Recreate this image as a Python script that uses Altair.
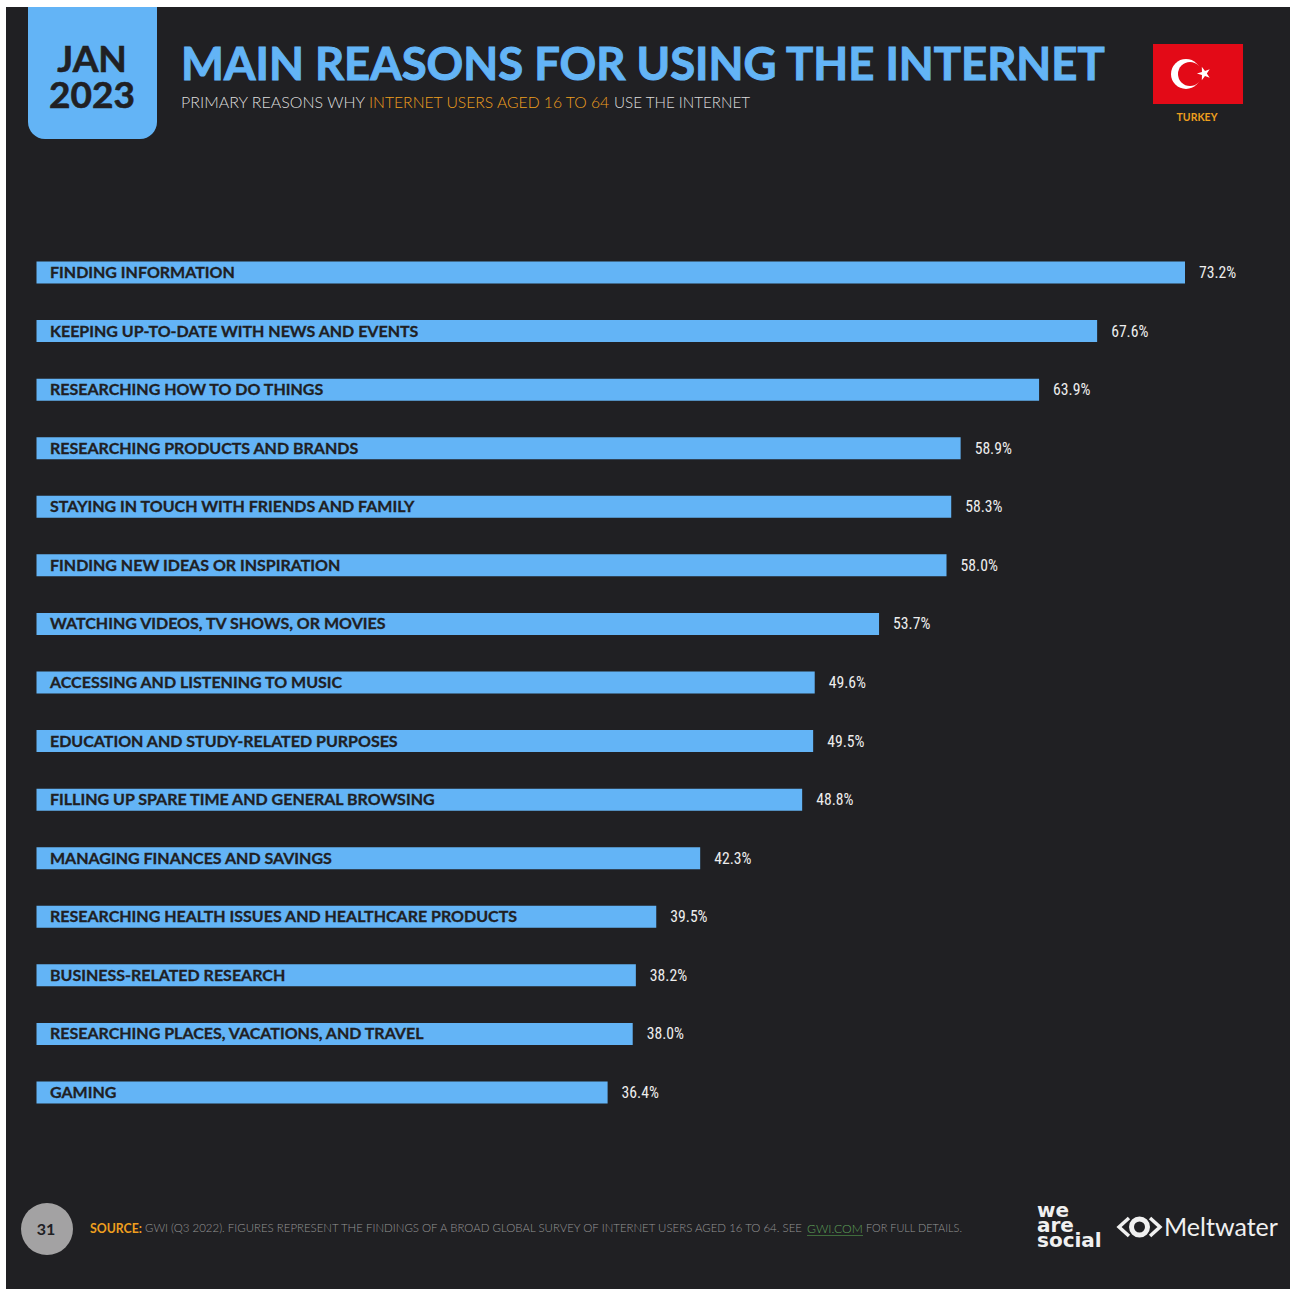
import altair as alt
import pandas as pd

reasons = [
    "FINDING INFORMATION",
    "KEEPING UP-TO-DATE WITH NEWS AND EVENTS",
    "RESEARCHING HOW TO DO THINGS",
    "RESEARCHING PRODUCTS AND BRANDS",
    "STAYING IN TOUCH WITH FRIENDS AND FAMILY",
    "FINDING NEW IDEAS OR INSPIRATION",
    "WATCHING VIDEOS, TV SHOWS, OR MOVIES",
    "ACCESSING AND LISTENING TO MUSIC",
    "EDUCATION AND STUDY-RELATED PURPOSES",
    "FILLING UP SPARE TIME AND GENERAL BROWSING",
    "MANAGING FINANCES AND SAVINGS",
    "RESEARCHING HEALTH ISSUES AND HEALTHCARE PRODUCTS",
    "BUSINESS-RELATED RESEARCH",
    "RESEARCHING PLACES, VACATIONS, AND TRAVEL",
    "GAMING",
]
shares = [73.2, 67.6, 63.9, 58.9, 58.3, 58.0, 53.7, 49.6, 49.5, 48.8, 42.3, 39.5, 38.2, 38.0, 36.4]

BLUE = "#63B4F6"
DARK = "#202023"
ORANGE = "#EE9F1E"
SANS = "Lato"
NARROW = "'Roboto Condensed','Open Sans Condensed','DejaVu Sans Condensed',Roboto"
W, H = 1290, 1289

table = pd.DataFrame({"reason": reasons, "share": shares})
one = alt.Data(values=[{"k": 1}])

x_enc = alt.X("share:Q", axis=None, scale=alt.Scale(domain=[0, 73.2], range=[36.5, 1185]))
y_enc = alt.Y(
    "reason:N", axis=None, sort=reasons,
    scale=alt.Scale(range=[261.5, 1103.5], paddingInner=0.624, paddingOuter=0),
)


def block(x0, x1, y0, y1, color, **mark):
    return alt.Chart(one).mark_rect(color=color, **mark).encode(
        x=alt.value(x0), x2=alt.value(x1), y=alt.value(y0), y2=alt.value(y1)
    )


def label(text, x, y, size, color, weight="normal", align="left", font=SANS, **mark):
    return alt.Chart(one).mark_text(
        text=text, fontSize=size, color=color, fontWeight=weight, align=align,
        baseline="middle", font=font, **mark
    ).encode(x=alt.value(x), y=alt.value(y))


def glyph(x, y, size, **mark):
    return alt.Chart(one).mark_point(**mark).encode(
        x=alt.value(x), y=alt.value(y), size=alt.value(size)
    )


# Panel and header
panel = block(6, W, 7, H, DARK)
badge = block(28, 157, 7, 139, BLUE, cornerRadiusBottomLeft=17, cornerRadiusBottomRight=17)
header = [
    label("JAN", 92, 61, 37, DARK, "bold", "center", stroke=DARK, strokeWidth=0.6),
    label("2023", 92, 97, 37, DARK, "bold", "center", stroke=DARK, strokeWidth=0.6),
    label("MAIN REASONS FOR USING THE INTERNET", 181, 66, 45.4, BLUE, "bold", stroke=BLUE, strokeWidth=1),
    label("PRIMARY REASONS WHY", 181, 103, 16, "#DDDDDD", 300),
    label("INTERNET USERS AGED 16 TO 64", 369, 103, 15.7, ORANGE, 300),
    label("USE THE INTERNET", 614, 103, 15.2, "#DDDDDD", 300),
]

# Turkish flag
star = "M-1,0 L-0.29,0.22 L-0.31,0.95 L0.14,0.36 L0.81,0.59 L0.4,0 L0.81,-0.59 L0.14,-0.36 L-0.31,-0.95 L-0.29,-0.22 Z"
flag = [
    block(1153, 1243, 44, 104, "#E30A17"),
    glyph(1186, 74, 900, shape="circle", filled=True, color="#FFFFFF", opacity=1),
    glyph(1190, 74, 576, shape="circle", filled=True, color="#E30A17", opacity=1),
    glyph(1204, 73.5, 200, shape=star, filled=True, color="#FFFFFF", opacity=1),
    label("TURKEY", 1197, 118, 10.5, ORANGE, "bold", "center"),
]

# Bars with their names and values
bars = alt.Chart(table).mark_bar(color=BLUE).encode(x=x_enc, y=y_enc)
names = alt.Chart(table).mark_text(
    align="left", baseline="middle", dy=0.5, font=SANS, fontWeight="bold", fontSize=16,
    color=DARK, stroke=DARK, strokeWidth=0.3
).encode(x=alt.value(50), y=y_enc, text="reason:N")
values = alt.Chart(table).transform_calculate(
    tag="format(datum.share, '.1f') + '%'"
).mark_text(
    align="left", baseline="middle", dx=14, dy=0.5, font=NARROW, fontSize=15.7, color="#EDEDED"
).encode(x=x_enc, y=y_enc, text="tag:N")

# Footer
footer = [
    glyph(47, 1229, 2704, shape="circle", filled=True, color="#A3A2A3", opacity=1),
    label("31", 46, 1230, 16, DARK, "bold", "center"),
    label("SOURCE:", 90, 1229, 12.3, ORANGE, "bold"),
    label(
        "GWI (Q3 2022). FIGURES REPRESENT THE FINDINGS OF A BROAD GLOBAL SURVEY OF INTERNET USERS AGED 16 TO 64. SEE",
        145, 1229, 11.45, "#969696", 300,
    ),
    label("GWI.COM", 807, 1229, 12.2, "#5FA35A", 300),
    block(807, 863, 1235, 1236, "#3F6B3C"),
    label("FOR FULL DETAILS.", 866, 1229, 10.9, "#969696", 300),
]

# Publisher marks
chev_l = "M0.55,-1 L-0.55,0 L0.55,1"
chev_r = "M-0.55,-1 L0.55,0 L-0.55,1"
logos = [
    label("we", 1037, 1211, 20, "#F0F0F0", "bold", font="DejaVu Sans"),
    label("are", 1037, 1226, 20, "#F0F0F0", "bold", font="DejaVu Sans"),
    label("social", 1037, 1241, 20, "#F0F0F0", "bold", font="DejaVu Sans"),
    glyph(1124, 1227, 324, shape=chev_l, filled=False, color="#F0F0F0", strokeWidth=3.5, opacity=1),
    glyph(1155, 1227, 324, shape=chev_r, filled=False, color="#F0F0F0", strokeWidth=3.5, opacity=1),
    glyph(1139.5, 1227, 256, shape="circle", filled=False, color="#F0F0F0", strokeWidth=5, opacity=1),
    label("Meltwater", 1164, 1228, 25, "#F0F0F0", "normal"),
]

chart = alt.layer(
    panel, badge, *header, *flag, bars, names, values, *footer, *logos
).properties(
    width=W, height=H, padding=0, background="#FFFFFF", autosize=alt.AutoSizeParams(type="none")
).configure_view(stroke=None)

chart.save("out.html", embed_options={"renderer": "svg", "actions": False})
